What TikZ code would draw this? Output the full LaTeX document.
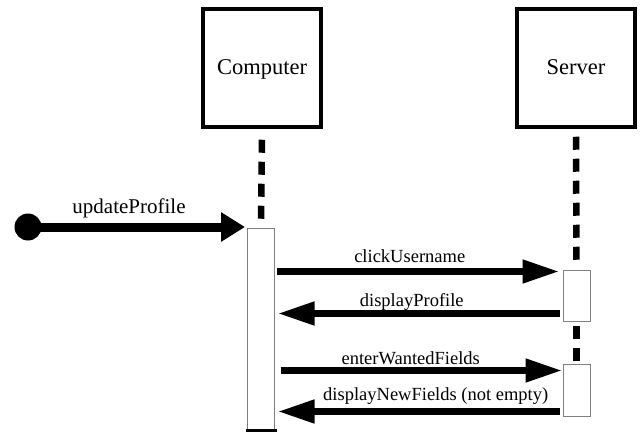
\documentclass[tikz,border=0pt]{standalone}
\usepackage{fontspec}
\setmainfont{Liberation Serif}
\usetikzlibrary{arrows.meta, positioning, calc}
\tikzset{
    actor/.style={rectangle, draw, line width=3.5pt, minimum width=118pt, minimum height=118pt, fill=white, text height=15.5pt, text depth=1.5pt, font=\fontsize{22.5}{26}\selectfont},
    activation/.style={rectangle, draw=gray, line width=1pt, fill=white, minimum width=27pt, inner sep=0pt},
    lifeline/.style={line width=6.5pt, dash pattern=on 13pt off 9pt},
    msg/.style={-{Triangle[length=37pt, width=22pt]}, line width=7.5pt},
    found/.style={-{Triangle[length=24pt, width=28pt]}, line width=9pt},
    msglabel/.style={anchor=base, font=\fontsize{18.5}{22}\selectfont}
}
\begin{document}
\begin{tikzpicture}[x=1pt, y=-1pt]
    \useasboundingbox (0,0) rectangle (644,438);

    % Actors
    \node[actor] (computer) at (262, 68) {Computer};
    \node[actor] (server) at (576, 68) {Server};

    % Activations
    \node[activation, minimum height=202pt] (compAct) at (261, 329) {};
    \node[activation, minimum height=51pt] (srvActA) at (576.5, 295.5) {};
    \node[activation, minimum height=52pt] (srvActB) at (576.5, 390) {};
    \draw[line width=2.5pt] ([xshift=-1.5pt]compAct.south west) -- ([xshift=1.5pt]compAct.south east);

    % Lifelines
    \draw[lifeline, shorten <=11pt] (computer.south) -- (compAct.north);
    \draw[lifeline, shorten <=8pt, shorten >=2pt] (server.south) -- (srvActA.north);
    \draw[lifeline, shorten <=4pt] (srvActA.south) -- (srvActB.north);

    % Found message
    \node[circle, fill, minimum size=27pt, inner sep=0pt] (start) at (28, 227) {};
    \draw[found, shorten >=2pt] (start.center) -- (start.center -| compAct.west)
        node[midway, anchor=base, xshift=-8.5pt, yshift=14pt, font=\fontsize{21}{24}\selectfont] {updateProfile};

    % Messages
    \draw[msg, shorten <=2pt, shorten >=3pt] ([yshift=-2pt]compAct.east |- srvActA.north) -- ([yshift=-2pt]srvActA.north west)
        node[msglabel, midway, xshift=-9pt, yshift=9pt] {clickUsername};
    \draw[msg, shorten <=3pt, shorten >=2.5pt] ([yshift=8pt]srvActA.south west) -- ([yshift=8pt]compAct.east |- srvActA.south)
        node[msglabel, midway, xshift=-7pt, yshift=7pt] {displayProfile};
    \draw[msg, shorten <=5.5pt] ([yshift=-7pt]compAct.east |- srvActB.north) -- ([yshift=-7pt]srvActB.north west)
        node[msglabel, midway, xshift=-8pt, yshift=6pt] {enterWantedFields};
    \draw[msg, shorten <=3pt, shorten >=2.5pt] ([yshift=5pt]srvActB.south west) -- ([yshift=5pt]compAct.east |- srvActB.south)
        node[msglabel, midway, xshift=17pt, yshift=11pt] {displayNewFields (not empty)};
\end{tikzpicture}
\end{document}
